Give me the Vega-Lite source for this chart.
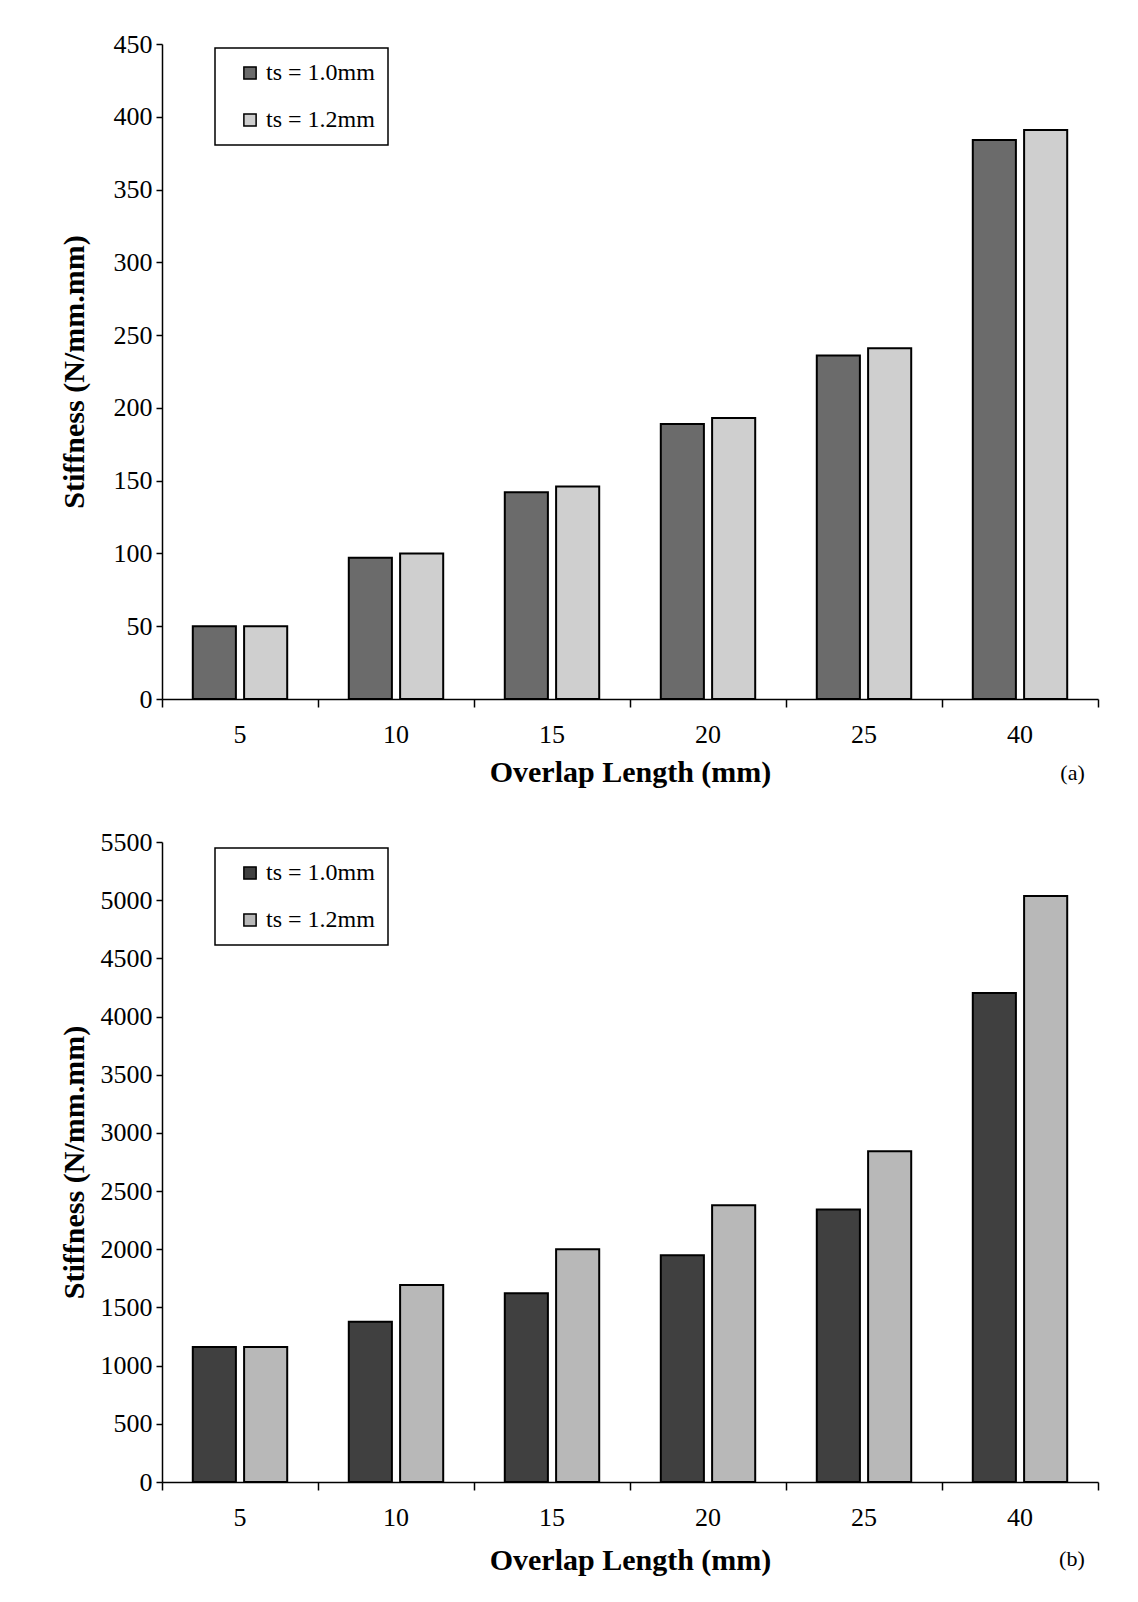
{
  "$schema": "https://vega.github.io/schema/vega-lite/v6.json",
  "background": "white",
  "padding": {"left": 59, "top": 31, "right": 10, "bottom": 10},
  "spacing": 42,
  "config": {
    "font": "Liberation Serif",
    "view": {"stroke": null},
    "axis": {
      "domainColor": "black", "domainWidth": 1.5,
      "tickColor": "black", "tickWidth": 1.5,
      "labelColor": "black", "titleColor": "black",
      "labelFont": "Liberation Serif", "titleFont": "Liberation Serif",
      "labelFontSize": 26, "titleFontSize": 30, "titleFontWeight": "bold",
      "grid": false
    },
    "legend": {
      "orient": "none", "legendX": 53, "legendY": 4,
      "strokeColor": "black", "strokeWidth": 1.5, "fillColor": "white",
      "padding": 13, "rowPadding": 23,
      "symbolType": "square", "symbolSize": 150,
      "symbolStrokeColor": "black", "symbolStrokeWidth": 1.5,
      "symbolOffset": 10, "labelOffset": 4,
      "labelFont": "Liberation Serif", "labelFontSize": 24, "labelColor": "black"
    }
  },
  "datasets": {
    "a": [
      {"overlap": "5", "series": "ts = 1.0mm", "stiffness": 50},
      {"overlap": "5", "series": "ts = 1.2mm", "stiffness": 50},
      {"overlap": "10", "series": "ts = 1.0mm", "stiffness": 97},
      {"overlap": "10", "series": "ts = 1.2mm", "stiffness": 100},
      {"overlap": "15", "series": "ts = 1.0mm", "stiffness": 142},
      {"overlap": "15", "series": "ts = 1.2mm", "stiffness": 146},
      {"overlap": "20", "series": "ts = 1.0mm", "stiffness": 189},
      {"overlap": "20", "series": "ts = 1.2mm", "stiffness": 193},
      {"overlap": "25", "series": "ts = 1.0mm", "stiffness": 236},
      {"overlap": "25", "series": "ts = 1.2mm", "stiffness": 241},
      {"overlap": "40", "series": "ts = 1.0mm", "stiffness": 384},
      {"overlap": "40", "series": "ts = 1.2mm", "stiffness": 391}
    ],
    "b": [
      {"overlap": "5", "series": "ts = 1.0mm", "stiffness": 1160},
      {"overlap": "5", "series": "ts = 1.2mm", "stiffness": 1160},
      {"overlap": "10", "series": "ts = 1.0mm", "stiffness": 1377},
      {"overlap": "10", "series": "ts = 1.2mm", "stiffness": 1693},
      {"overlap": "15", "series": "ts = 1.0mm", "stiffness": 1623},
      {"overlap": "15", "series": "ts = 1.2mm", "stiffness": 2000},
      {"overlap": "20", "series": "ts = 1.0mm", "stiffness": 1948},
      {"overlap": "20", "series": "ts = 1.2mm", "stiffness": 2378},
      {"overlap": "25", "series": "ts = 1.0mm", "stiffness": 2342},
      {"overlap": "25", "series": "ts = 1.2mm", "stiffness": 2843},
      {"overlap": "40", "series": "ts = 1.0mm", "stiffness": 4202},
      {"overlap": "40", "series": "ts = 1.2mm", "stiffness": 5036}
    ]
  },
  "resolve": {
    "scale": {"color": "independent", "x": "independent", "y": "independent", "xOffset": "independent"},
    "legend": {"color": "independent"}
  },
  "vconcat": [
    {
      "data": {"name": "a"},
      "width": 936,
      "height": 655,
      "title": {"text": "(a)", "orient": "bottom", "anchor": "end", "fontSize": 22, "fontWeight": "normal", "font": "Liberation Serif", "color": "black", "offset": -24, "dx": -14},
      "mark": {"type": "bar", "stroke": "black", "strokeWidth": 2},
      "encoding": {
        "x": {
          "field": "overlap", "type": "nominal",
          "scale": {"domain": ["5", "10", "15", "20", "25", "40"], "paddingInner": 0, "paddingOuter": 0},
          "axis": {"title": "Overlap Length (mm)", "labelAngle": 0, "bandPosition": 1, "tickExtra": true, "tickSize": 8, "labelPadding": 14, "titlePadding": 10}
        },
        "xOffset": {
          "field": "series", "type": "nominal",
          "scale": {"domain": ["ts = 1.0mm", "ts = 1.2mm"], "paddingInner": 0.16, "paddingOuter": 0.6}
        },
        "y": {
          "field": "stiffness", "type": "quantitative",
          "scale": {"domain": [0, 450], "nice": false},
          "axis": {"title": "Stiffness (N/mm.mm)", "format": "d", "values": [0, 50, 100, 150, 200, 250, 300, 350, 400, 450], "tickSize": 6, "labelPadding": 4, "minExtent": 64, "maxExtent": 64, "titlePadding": 9}
        },
        "color": {
          "field": "series", "type": "nominal",
          "scale": {"domain": ["ts = 1.0mm", "ts = 1.2mm"], "range": ["#6b6b6b", "#cfcfcf"]},
          "legend": {"title": null}
        }
      }
    },
    {
      "data": {"name": "b"},
      "width": 936,
      "height": 640,
      "title": {"text": "(b)", "orient": "bottom", "anchor": "end", "fontSize": 22, "fontWeight": "normal", "font": "Liberation Serif", "color": "black", "offset": -26, "dx": -14},
      "mark": {"type": "bar", "stroke": "black", "strokeWidth": 2},
      "encoding": {
        "x": {
          "field": "overlap", "type": "nominal",
          "scale": {"domain": ["5", "10", "15", "20", "25", "40"], "paddingInner": 0, "paddingOuter": 0},
          "axis": {"title": "Overlap Length (mm)", "labelAngle": 0, "bandPosition": 1, "tickExtra": true, "tickSize": 8, "labelPadding": 14, "titlePadding": 15}
        },
        "xOffset": {
          "field": "series", "type": "nominal",
          "scale": {"domain": ["ts = 1.0mm", "ts = 1.2mm"], "paddingInner": 0.16, "paddingOuter": 0.6}
        },
        "y": {
          "field": "stiffness", "type": "quantitative",
          "scale": {"domain": [0, 5500], "nice": false},
          "axis": {"title": "Stiffness (N/mm.mm)", "format": "d", "values": [0, 500, 1000, 1500, 2000, 2500, 3000, 3500, 4000, 4500, 5000, 5500], "tickSize": 6, "labelPadding": 4, "minExtent": 64, "maxExtent": 64, "titlePadding": 9}
        },
        "color": {
          "field": "series", "type": "nominal",
          "scale": {"domain": ["ts = 1.0mm", "ts = 1.2mm"], "range": ["#404040", "#b8b8b8"]},
          "legend": {"title": null, "legendY": 6}
        }
      }
    }
  ]
}
